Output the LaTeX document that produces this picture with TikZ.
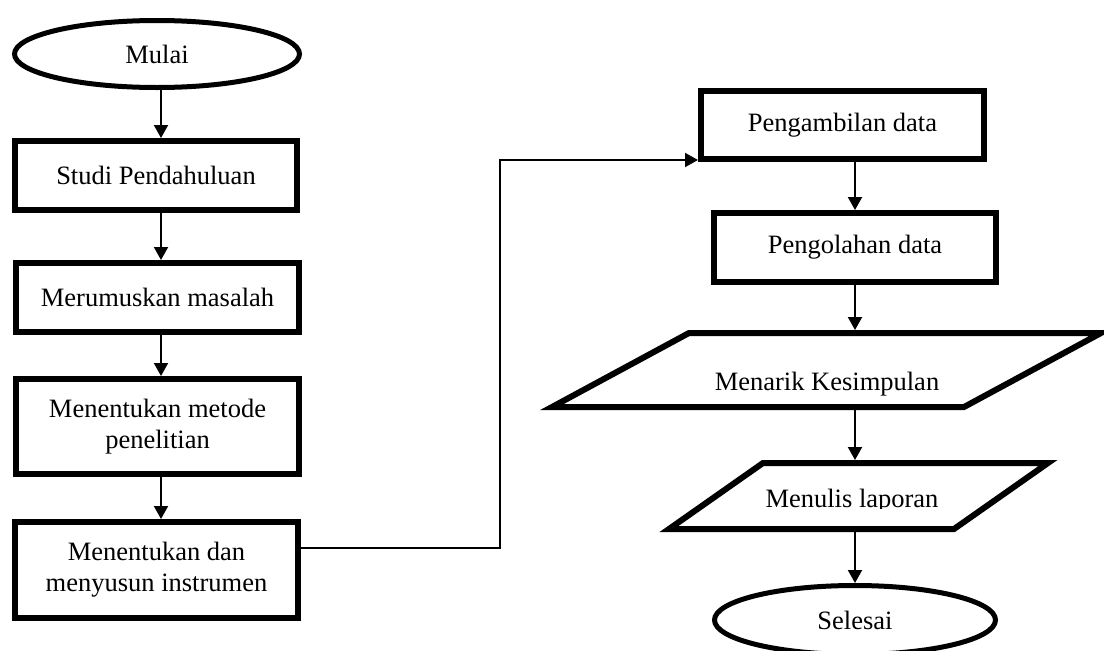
\documentclass[tikz,border=0pt]{standalone}
\usepackage{fontspec}
\setmainfont{Liberation Serif}
\usetikzlibrary{arrows.meta,shapes.geometric}
\begin{document}
\begin{tikzpicture}[x=1pt,y=-1pt,
  txt/.style={font=\fontsize{26.5}{31}\selectfont},
  box/.style={txt,draw,line width=6pt,rectangle,minimum width=283pt,align=center,inner sep=0pt},
  term/.style={txt,draw,line width=5pt,ellipse,inner sep=0pt},
  lbl/.style={txt,inner sep=0pt},
  para/.style={line width=6pt,line join=miter},
  arr/.style={line width=2pt,-{Triangle[length=13pt,width=14pt]}}
]
\useasboundingbox (0,0) rectangle (1104,651);
% left column
\node[term,minimum width=285pt,minimum height=67pt] (mulai) at (157,54) {Mulai};
\node[box,minimum width=282pt,minimum height=69pt] (studi) at (156,175.5) {Studi Pendahuluan};
\node[box,minimum height=69pt] (rumus) at (157.5,297.5) {Merumuskan masalah};
\node[box,minimum height=95pt] (metode) at (157.5,426.5) {Menentukan metode\\penelitian};
\node[box,minimum height=96pt] (instrumen) at (156.5,570) {Menentukan dan\\menyusun instrumen};
\coordinate (colL) at (161,0);
\draw[arr] (mulai.south -| colL) -- (studi.north -| colL);
\draw[arr] (studi.south -| colL) -- (rumus.north -| colL);
\draw[arr] (rumus.south -| colL) -- (metode.north -| colL);
\draw[arr] (metode.south -| colL) -- (instrumen.north -| colL);
% right column
\node[box,minimum width=283pt,minimum height=68pt] (ambil) at (842.5,125) {Pengambilan data};
\node[box,minimum width=282pt,minimum height=69pt] (olah) at (855,247.5) {Pengolahan data};
\draw[para] (689,333) -- (1101,333) -- (964,407) -- (552,407) -- cycle;
\node[lbl,anchor=base] (menarik) at (827,390) {Menarik Kesimpulan};
\draw[para] (763,463) -- (1048,463) -- (954,529) -- (669,529) -- cycle;
\begin{scope}
  \clip (600,440) rectangle (1104,508);
  \node[lbl,anchor=base] (menulis) at (852,507) {Menulis laporan};
\end{scope}
\node[term,minimum width=281pt,minimum height=69pt] (selesai) at (855,620) {Selesai};
\coordinate (menarikTop) at (855,330);
\coordinate (menarikBot) at (855,410);
\coordinate (menulisTop) at (855,460);
\coordinate (menulisBot) at (855,532);
\draw[arr] (olah.north |- ambil.south) -- (olah.north);
\draw[arr] (olah.south) -- (menarikTop);
\draw[arr] (menarikBot) -- (menulisTop);
\draw[arr] (menulisBot) -- (selesai.north);
% connector from left to right column
\coordinate (bendA) at (500,548);
\coordinate (bendB) at (500,160);
\draw[arr] (instrumen.east |- bendA) -- (bendA) -- (bendB) -- (ambil.west |- bendB);
\end{tikzpicture}
\end{document}
